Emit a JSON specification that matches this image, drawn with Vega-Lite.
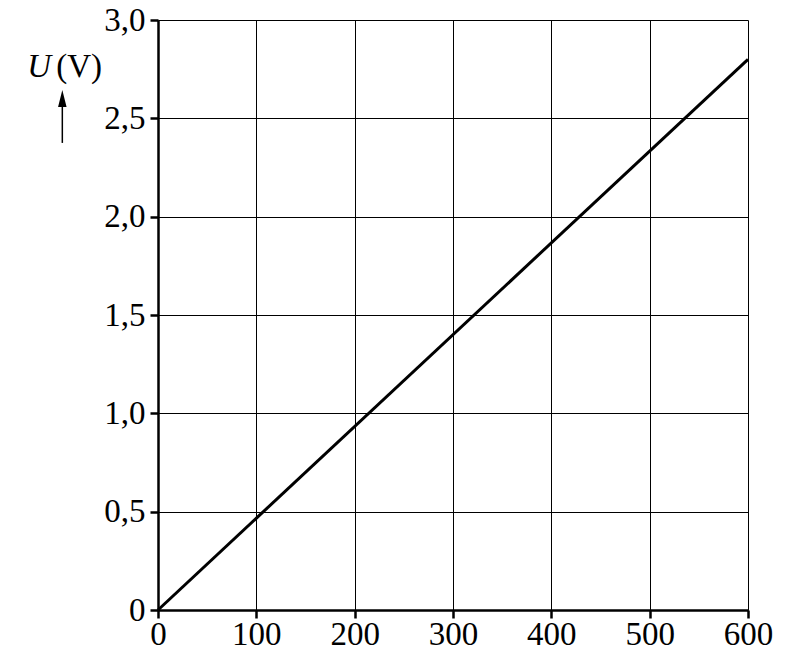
{
  "$schema": "https://vega.github.io/schema/vega-lite/v6.json",
  "width": 590,
  "height": 590,
  "autosize": {"type": "none"},
  "padding": {"left": 158, "top": 20, "right": 52, "bottom": 56},
  "background": "white",
  "config": {
    "view": {"stroke": null},
    "font": "Liberation Serif"
  },
  "datasets": {
    "line": [
      {"R": 0, "U": 0},
      {"R": 600, "U": 2.8}
    ],
    "unitU": [
      {"R": -133, "U": 2.71, "t": "U"}
    ],
    "unitV": [
      {"R": -103.5, "U": 2.71, "t": "(V)"}
    ],
    "arrow": [
      {"R": -97.3, "U": 2.375, "U2": 2.601}
    ]
  },
  "layer": [
    {
      "data": {"name": "line"},
      "mark": {"type": "line", "color": "black", "strokeWidth": 3, "clip": false},
      "encoding": {
        "x": {
          "field": "R", "type": "quantitative",
          "scale": {"domain": [0, 600], "nice": false, "zero": false},
          "axis": {
            "values": [0, 100, 200, 300, 400, 500, 600],
            "title": null,
            "grid": true, "gridColor": "black", "gridWidth": 1, "gridOpacity": 1,
            "domainColor": "black", "domainWidth": 2.5,
            "tickColor": "black", "tickWidth": 2.5, "tickSize": 8,
            "labelFont": "Liberation Serif", "labelFontSize": 33, "labelColor": "black",
            "labelPadding": 0, "labelFlush": false, "labelOverlap": false
          }
        },
        "y": {
          "field": "U", "type": "quantitative",
          "scale": {"domain": [0, 3], "nice": false, "zero": false},
          "axis": {
            "values": [0, 0.5, 1, 1.5, 2, 2.5, 3],
            "title": null,
            "labelExpr": "datum.value == 0 ? '0' : replace(format(datum.value, '.1f'), '.', ',')",
            "grid": true, "gridColor": "black", "gridWidth": 1, "gridOpacity": 1,
            "domainColor": "black", "domainWidth": 2.5,
            "tickColor": "black", "tickWidth": 2.5, "tickSize": 8,
            "labelFont": "Liberation Serif", "labelFontSize": 33, "labelColor": "black",
            "labelPadding": 5, "labelFlush": false, "labelOverlap": false
          }
        }
      }
    },
    {
      "data": {"name": "unitU"},
      "mark": {"type": "text", "fontSize": 33, "fontStyle": "italic", "color": "black", "align": "left", "baseline": "alphabetic", "clip": false, "font": "Liberation Serif"},
      "encoding": {
        "x": {"field": "R", "type": "quantitative"},
        "y": {"field": "U", "type": "quantitative"},
        "text": {"field": "t"}
      }
    },
    {
      "data": {"name": "unitV"},
      "mark": {"type": "text", "fontSize": 33, "color": "black", "align": "left", "baseline": "alphabetic", "clip": false, "font": "Liberation Serif"},
      "encoding": {
        "x": {"field": "R", "type": "quantitative"},
        "y": {"field": "U", "type": "quantitative"},
        "text": {"field": "t"}
      }
    },
    {
      "data": {"name": "arrow"},
      "mark": {"type": "rule", "color": "black", "strokeWidth": 1.5, "clip": false},
      "encoding": {
        "x": {"field": "R", "type": "quantitative"},
        "y": {"field": "U", "type": "quantitative"},
        "y2": {"field": "U2"}
      }
    },
    {
      "data": {"name": "arrow"},
      "mark": {"type": "point", "shape": "M0,-1L0.5,1L-0.5,1Z", "filled": true, "color": "black", "opacity": 1, "size": 289, "clip": false},
      "encoding": {
        "x": {"field": "R", "type": "quantitative"},
        "y": {"field": "U2", "type": "quantitative"}
      }
    }
  ]
}
